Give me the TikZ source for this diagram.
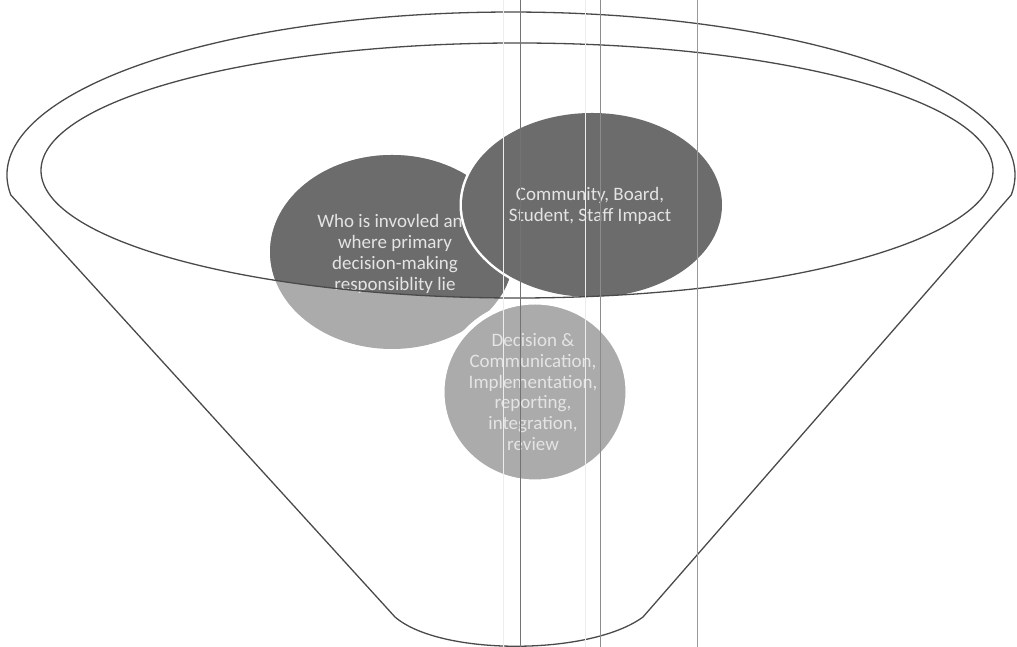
\documentclass[tikz,border=0pt]{standalone}
\usepackage{fontspec}
\setmainfont{Carlito}
\definecolor{darkbub}{HTML}{6C6C6C}
\definecolor{lightbub}{HTML}{ABABAB}
\definecolor{bubtext}{HTML}{E4E4E4}
\definecolor{inkline}{HTML}{4A4A4A}
\tikzset{
  funnelline/.style={draw=inkline, line width=1.3pt, line join=round},
  bubtxt/.style={text=bubtext, align=center, inner sep=0pt,
    font=\fontsize{19}{20.8}\selectfont},
  whiteedge/.style={draw=white, line width=5pt},
  scanline/.style={draw=#1, line width=0.7pt},
}
\begin{document}
\begin{tikzpicture}[x=1pt,y=1pt]
\useasboundingbox (0,0) rectangle (1017,647);
% funnel body with outer rim
\draw[funnelline] (10.76,452.1) arc[start angle=187, end angle=-7, x radius=504, y radius=163]
  -- (643,30) .. controls (590,-9) and (440,-9) .. (395,30) -- cycle;
% left bubble
\fill[lightbub] (392,395) ellipse [x radius=122, y radius=97];
\begin{scope}
  \clip (517,476.5) ellipse [x radius=476, y radius=127.5];
  \fill[darkbub] (392,395) ellipse [x radius=122, y radius=97];
\end{scope}
\node[bubtxt] (who) at (395,393) {Who is invovled and\\where primary\\decision-making\\responsiblity lie};
% right bubble
\draw[whiteedge, fill=lightbub] (592,442) ellipse [x radius=130, y radius=92];
\begin{scope}
  \clip (517,476.5) ellipse [x radius=476, y radius=127.5];
  \fill[darkbub] (592,442) ellipse [x radius=130, y radius=92];
\end{scope}
\node[bubtxt] (comm) at (590,441) {Community, Board,\\Student, Staff Impact};
% bottom bubble
\draw[whiteedge, fill=lightbub] (535,255) ellipse [x radius=93, y radius=90];
\node[bubtxt] (dec) at (533,255) {Decision \&\\Communication,\\Implementation,\\reporting,\\integration,\\review};
% inner rim (liquid surface)
\draw[funnelline] (517,476.5) ellipse [x radius=476, y radius=127.5];
% scan lines
\draw[scanline=black!7] (503,0) -- (503,647);
\draw[scanline=black!55] (520,0) -- (520,647);
\draw[scanline=black!7] (585,0) -- (585,647);
\draw[scanline=black!45] (600,0) -- (600,647);
\draw[scanline=black!40] (697,0) -- (697,647);
\end{tikzpicture}
\end{document}
